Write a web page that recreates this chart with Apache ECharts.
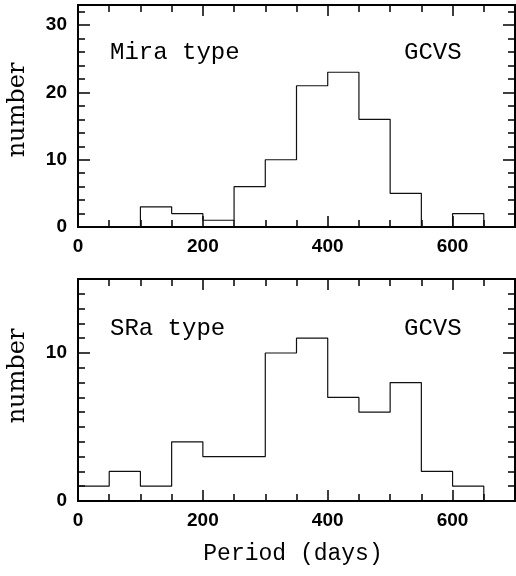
<!DOCTYPE html>
<html>
<head>
<meta charset="utf-8">
<script src="https://cdn.jsdelivr.net/npm/echarts@6/dist/echarts.min.js"></script>
<style>
  html, body { margin: 0; padding: 0; background: #fff; }
  #histChart { width: 516px; height: 576px; }
</style>
</head>
<body>
<div id="histChart"></div>
<script>
// bin left edges (days), each bin is 50 days wide
const binEdges = [0, 50, 100, 150, 200, 250, 300, 350, 400, 450, 500, 550, 600, 650]
const binWidth = 50
const miraCounts = [0, 0, 3, 2, 1, 6, 10, 21, 23, 16, 5, 0, 2, 0]
const sraCounts = [1, 2, 1, 4, 3, 3, 10, 11, 7, 6, 8, 2, 1, 0]
const panelLabels = ['Mira type', 'SRa type']
const sourceLabel = 'GCVS'
const yMax = [33, 15]
const yMinorStep = [2, 1]

const tickFont = { color: '#000', fontFamily: 'Liberation Sans', fontWeight: 'bold', fontSize: 19 }
const monoFont = '24px "Liberation Mono", "Courier New", monospace'

function stepPoints (counts) {
  const pts = binEdges.map((e, i) => [e, counts[i]])
  pts.push([binEdges[binEdges.length - 1] + binWidth, counts[counts.length - 1]])
  return pts
}

function xAx (grid, pos, interval, len, labels) {
  return {
    type: 'value', gridIndex: grid, position: pos, min: 0, max: 700, interval: interval,
    axisLine: { show: true, onZero: false, lineStyle: { color: '#000', width: 2 } },
    axisTick: { show: true, inside: true, length: len, lineStyle: { color: '#000', width: 1.5 } },
    axisLabel: labels ? Object.assign({ margin: 10, showMaxLabel: false }, tickFont) : { show: false },
    splitLine: { show: false }
  }
}

function yAx (grid, pos, interval, len, labels) {
  return {
    type: 'value', gridIndex: grid, position: pos, min: 0, max: yMax[grid], interval: interval,
    axisLine: { show: true, onZero: false, lineStyle: { color: '#000', width: 2 } },
    axisTick: { show: true, inside: true, length: len, lineStyle: { color: '#000', width: 1.5 } },
    axisLabel: labels ? Object.assign({ margin: 11, showMaxLabel: false }, tickFont) : { show: false },
    splitLine: { show: false }
  }
}

const xAxes = []
const yAxes = []
for (let g = 0; g < 2; g++) {
  // index 4*g is the labelled bottom / left axis
  xAxes.push(xAx(g, 'bottom', 200, 11, true), xAx(g, 'bottom', 50, 7, false),
    xAx(g, 'top', 200, 11, false), xAx(g, 'top', 50, 7, false))
  yAxes.push(yAx(g, 'left', 10, 12, true), yAx(g, 'left', yMinorStep[g], 7, false),
    yAx(g, 'right', 10, 12, false), yAx(g, 'right', yMinorStep[g], 7, false))
}

const option = {
  animation: false,
  grid: [
    { left: 78, right: 1, top: 5, height: 222 },
    { left: 78, right: 1, top: 279, height: 222 }
  ],
  xAxis: xAxes,
  yAxis: yAxes,
  series: [miraCounts, sraCounts].map((counts, g) => ({
    type: 'line',
    step: 'end',
    xAxisIndex: 4 * g,
    yAxisIndex: 4 * g,
    data: stepPoints(counts),
    showSymbol: false,
    symbol: 'none',
    lineStyle: { color: '#111', width: 1.2 }
  })),
  graphic: [
    { type: 'text', x: 110, y: 53, style: { text: panelLabels[0], font: monoFont, fill: '#000', verticalAlign: 'middle' } },
    { type: 'text', x: 404, y: 53, style: { text: sourceLabel, font: monoFont, fill: '#000', verticalAlign: 'middle' } },
    { type: 'text', x: 110, y: 329, style: { text: panelLabels[1], font: monoFont, fill: '#000', verticalAlign: 'middle' } },
    { type: 'text', x: 404, y: 329, style: { text: sourceLabel, font: monoFont, fill: '#000', verticalAlign: 'middle' } },
    { type: 'text', x: 18, y: 110, rotation: Math.PI / 2, style: { text: 'number', font: '24px "DejaVu Serif", serif', fill: '#000', align: 'center', verticalAlign: 'middle' } },
    { type: 'text', x: 18, y: 376, rotation: Math.PI / 2, style: { text: 'number', font: '24px "DejaVu Serif", serif', fill: '#000', align: 'center', verticalAlign: 'middle' } },
    { type: 'text', x: 293, y: 554, style: { text: 'Period (days)', font: '23px "Liberation Mono", monospace', fill: '#000', align: 'center', verticalAlign: 'middle' } }
  ]
}

var histChart = echarts.init(document.getElementById('histChart'))
histChart.setOption(option)
</script>
</body>
</html>
